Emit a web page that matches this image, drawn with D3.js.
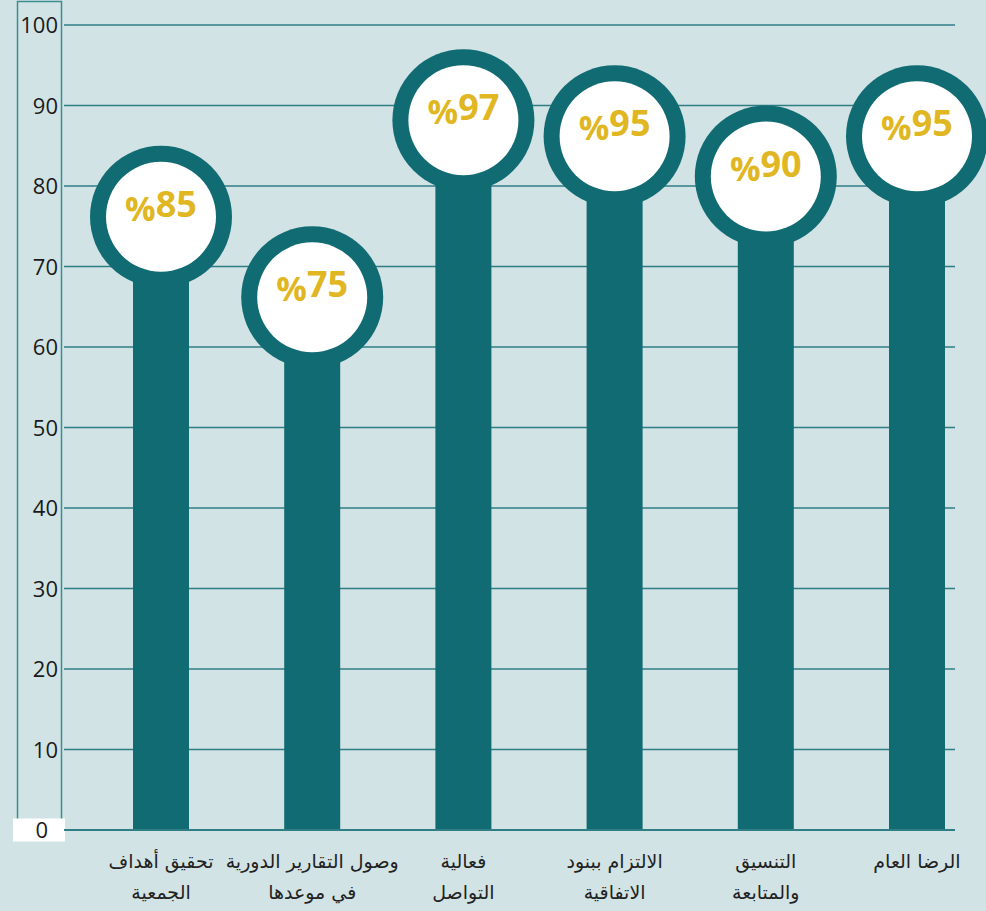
<!DOCTYPE html>
<html>
<head>
<meta charset="utf-8">
<script src="https://cdn.jsdelivr.net/npm/d3@7"></script>
<style>
    body { margin: 0; background: #d2e3e5; }
    svg { display: block; }
</style>
</head>
<body>
<div id="chart"></div>
<script>
// categories (each with its two label lines), values and y ticks
const categories = ["تحقيق أهداف الجمعية", "وصول التقارير الدورية في موعدها", "فعالية التواصل",
    "الالتزام ببنود الاتفاقية", "التنسيق والمتابعة", "الرضا العام"];
const labelLines = [
    ["تحقيق أهداف", "الجمعية"],
    ["وصول التقارير الدورية", "في موعدها"],
    ["فعالية", "التواصل"],
    ["الالتزام ببنود", "الاتفاقية"],
    ["التنسيق", "والمتابعة"],
    ["الرضا العام"]
];
const values = [85, 75, 97, 95, 90, 95];
const yTicks = [0, 10, 20, 30, 40, 50, 60, 70, 80, 90, 100];

const width = 986, height = 911;
const teal = "#116b72", gridCol = "#2f7e85", gold = "#e0b723";
const R = 71, innerR = 55, barW = 56;

let svg = d3.select("#chart").append("svg")
    .attr("width", width).attr("height", height);

svg.append("rect").attr("width", width).attr("height", height).attr("fill", "#d2e3e5");

let y = d3.scaleLinear().domain([0, 100]).range([830, 25]);
let x = d3.scalePoint().domain(categories).range([161, 917]);

// left frame of the y axis
svg.append("rect")
    .attr("x", 17.5).attr("y", 1.5).attr("width", 44).attr("height", 825)
    .attr("fill", "none").attr("stroke", "#3f8c92").attr("stroke-width", 1.5);

// grid lines
svg.append("g").selectAll("line")
    .data(yTicks.filter(d => d > 0))
    .enter().append("line")
    .attr("x1", 64).attr("x2", 955)
    .attr("y1", d => y(d)).attr("y2", d => y(d))
    .attr("stroke", gridCol).attr("stroke-width", 1.5);

// y axis labels
let yAxis = svg.append("g").attr("class", "y-axis")
    .attr("transform", "translate(58,0)")
    .call(d3.axisLeft(y).tickValues(yTicks).tickSize(0).tickPadding(0));
yAxis.select(".domain").remove();
yAxis.selectAll(".tick").filter(d => d === 0).insert("rect", "text")
    .attr("x", -45).attr("y", -12).attr("width", 52).attr("height", 23).attr("fill", "#fff");
yAxis.selectAll(".tick text")
    .attr("fill", "#1a1a1a").attr("font-size", 22)
    .attr("font-family", "'Open Sans', sans-serif").attr("font-weight", 400)
    .attr("dy", "0.35em")
    .attr("dx", d => d === 0 ? -10 : 0);

// bars
svg.append("g").selectAll("rect")
    .data(values)
    .enter().append("rect")
    .attr("x", (d, i) => x(categories[i]) - barW / 2)
    .attr("y", d => y(d) + R)
    .attr("width", barW)
    .attr("height", d => y(0) - y(d) - R)
    .attr("fill", teal);

// baseline
svg.append("line")
    .attr("x1", 64).attr("x2", 955)
    .attr("y1", y(0)).attr("y2", y(0))
    .attr("stroke", gridCol).attr("stroke-width", 2);

// circles with labels
let heads = svg.append("g").selectAll("g")
    .data(values)
    .enter().append("g")
    .attr("transform", (d, i) => "translate(" + x(categories[i]) + "," + (y(d) + R) + ")");

heads.append("circle").attr("r", R).attr("fill", teal);
heads.append("circle").attr("r", innerR).attr("fill", "#fff");

let lbl = heads.append("text")
    .attr("text-anchor", "middle")
    .attr("direction", "ltr")
    .attr("y", 0)
    .attr("fill", gold)
    .attr("font-family", "'Open Sans', sans-serif")
    .attr("font-weight", 700);
lbl.append("tspan").attr("font-size", 34).attr("dy", 4).text("%");
lbl.append("tspan").attr("font-size", 36).attr("dy", -4).text(d => d);

// category labels
let cat = svg.append("g").selectAll("text")
    .data(labelLines)
    .enter().append("text")
    .attr("text-anchor", "middle")
    .attr("direction", "rtl")
    .attr("fill", "#222")
    .attr("font-size", 19)
    .attr("font-family", "'DejaVu Sans', sans-serif")
    .attr("x", (d, i) => x(categories[i]))
    .attr("y", 868);

cat.selectAll("tspan")
    .data(d => d)
    .enter().append("tspan")
    .attr("x", function () { return this.parentNode.getAttribute("x"); })
    .attr("dy", (d, i) => i === 0 ? 0 : 31)
    .text(d => d);
</script>
</body>
</html>
